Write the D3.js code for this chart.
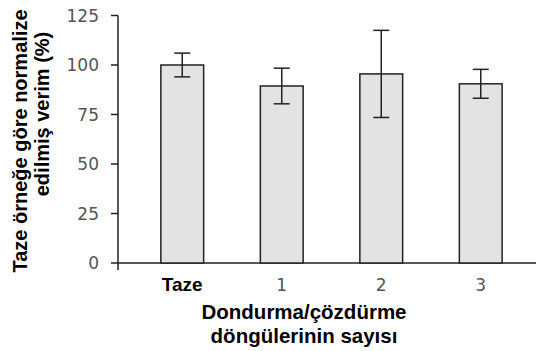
<!DOCTYPE html>
<html>
<head>
<meta charset="utf-8">
<script src="https://cdn.jsdelivr.net/npm/d3@7"></script>
<style>
  body { margin: 0; background: #fff; }
  svg { display: block; }
  .tick-lbl { font-family: "DejaVu Sans", sans-serif; font-weight: normal; fill: #555; }
  .title { font-family: "Liberation Sans", Arial, sans-serif; font-weight: bold; fill: #000; }
</style>
</head>
<body>
<svg width="536" height="351"></svg>
<script>
// chart values
const categories = ["Taze", "1", "2", "3"];
const means = [100, 89.4, 95.5, 90.5];
const errors = [6, 9, 22, 7.3];
const yTicks = [0, 25, 50, 75, 100, 125];

const svg = d3.select("svg");

// scales
const x = d3.scaleBand()
  .domain(categories)
  .range([133, 530])
  .paddingInner(0.57)
  .paddingOuter(0.28);

const y = d3.scaleLinear()
  .domain([0, 125])
  .range([263, 15.5]);

// axes lines
svg.append("line")
  .attr("x1", 118).attr("x2", 536)
  .attr("y1", y(0)).attr("y2", y(0))
  .attr("stroke", "#222").attr("stroke-width", 1.5);

svg.append("line")
  .attr("x1", 118).attr("x2", 118)
  .attr("y1", y(125)).attr("y2", y(0) + 7)
  .attr("stroke", "#222").attr("stroke-width", 1.5);

// y ticks
svg.selectAll(".ytick")
  .data(yTicks)
  .enter()
  .append("line")
  .attr("x1", 111).attr("x2", 118)
  .attr("y1", (d) => y(d)).attr("y2", (d) => y(d))
  .attr("stroke", "#222").attr("stroke-width", 1.5);

svg.selectAll(".ylbl")
  .data(yTicks)
  .enter()
  .append("text")
  .attr("class", "tick-lbl")
  .attr("x", 99)
  .attr("y", (d) => y(d))
  .attr("dy", "0.36em")
  .attr("text-anchor", "end")
  .attr("font-size", 17)
  .text((d) => d);

// bars
svg.selectAll(".bar")
  .data(categories)
  .enter()
  .append("rect")
  .attr("x", (d) => x(d))
  .attr("y", (d, i) => y(means[i]))
  .attr("width", x.bandwidth())
  .attr("height", (d, i) => y(0) - y(means[i]))
  .attr("fill", "#e3e3e3")
  .attr("stroke", "#222")
  .attr("stroke-width", 1.5);

// error bars
const err = svg.append("g");
categories.forEach((c, i) => {
  const cx = x(c) + x.bandwidth() / 2;
  const hi = y(means[i] + errors[i]);
  const lo = y(means[i] - errors[i]);
  err.append("line")
    .attr("x1", cx).attr("x2", cx).attr("y1", hi).attr("y2", lo)
    .attr("stroke", "#222").attr("stroke-width", 1.5);
  [hi, lo].forEach((yy) => {
    err.append("line")
      .attr("x1", cx - 8).attr("x2", cx + 8).attr("y1", yy).attr("y2", yy)
      .attr("stroke", "#222").attr("stroke-width", 1.5);
  });
});

// x labels
svg.selectAll(".xlbl")
  .data(categories)
  .enter()
  .append("text")
  .attr("class", (d, i) => (i === 0 ? "title" : "tick-lbl"))
  .attr("x", (d) => x(d) + x.bandwidth() / 2)
  .attr("y", 291)
  .attr("text-anchor", "middle")
  .attr("font-size", (d, i) => (i === 0 ? 19 : 17))
  .text((d) => d);

// x title
svg.append("text")
  .attr("class", "title")
  .attr("x", 304).attr("y", 319)
  .attr("text-anchor", "middle")
  .attr("font-size", 20.5)
  .text("Dondurma/çözdürme");
svg.append("text")
  .attr("class", "title")
  .attr("x", 304).attr("y", 343)
  .attr("text-anchor", "middle")
  .attr("font-size", 20.5)
  .text("döngülerinin sayısı");

// y title
const yt = svg.append("g").attr("transform", "rotate(-90)");
yt.append("text")
  .attr("class", "title")
  .attr("x", -141).attr("y", 27)
  .attr("text-anchor", "middle")
  .attr("font-size", 20)
  .text("Taze örneğe göre normalize");
yt.append("text")
  .attr("class", "title")
  .attr("x", -114).attr("y", 49)
  .attr("text-anchor", "middle")
  .attr("font-size", 20)
  .text("edilmiş verim (%)");
</script>
</body>
</html>
